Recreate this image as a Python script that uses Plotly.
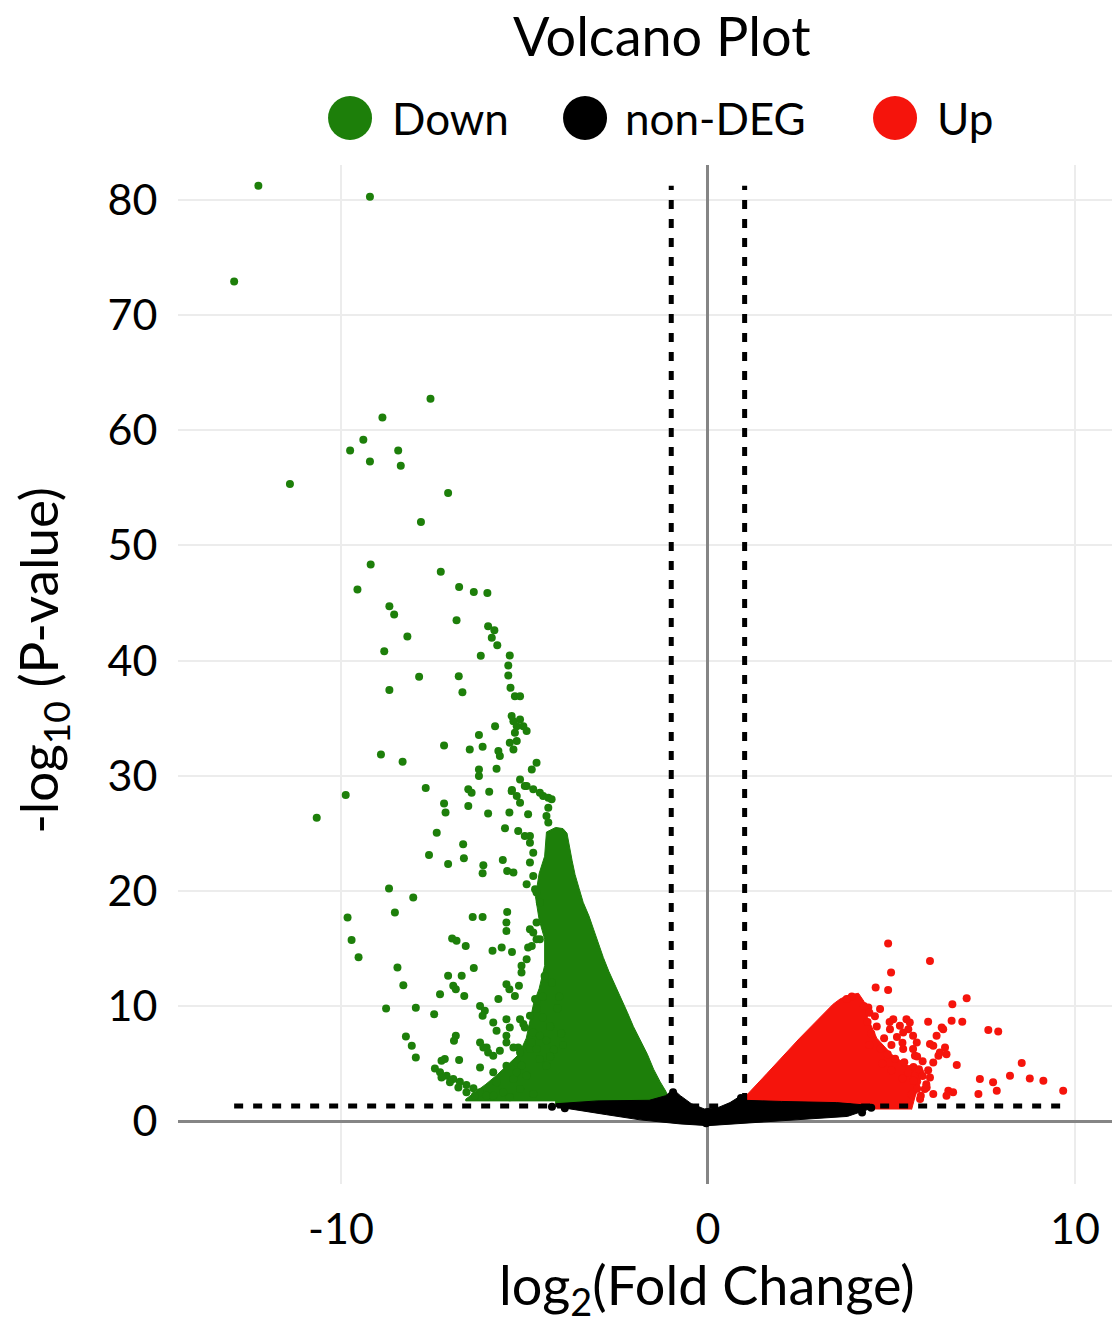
import plotly.graph_objects as go

# ---- thresholds ----
fc_threshold = 1.0          # |log2 fold change|
p_threshold = 1.3           # -log10(0.05)

# ---- individually resolved down-regulated genes (log2FC, -log10 p) ----
down_x = [-12.25, -9.21, -12.91, -7.56, -8.87, -9.39, -9.75, -8.44, -9.21, -8.37, -11.39, -7.08, -7.82, -9.19, -7.28, -9.55, -6.78, -6.38, -6.01, -8.68,
          -8.55, -6.85, -5.99, -5.82, -8.19, -5.89, -5.74, -8.82, -6.19, -5.40, -5.44, -5.44, -7.87, -6.79, -8.68, -6.69, -5.38, -5.26, -5.12, -5.80, -6.24, -5.30, -5.12, -5.21, -4.94, -5.26,
          -5.35, -5.03, -5.40, -5.21,
          -7.19, -8.91, -8.32, -6.49, -6.14, -5.71, -5.30, -5.67, -4.67, -4.80, -6.24, -5.76, -6.24, -5.12, -7.69, -9.87, -6.53, -6.44, -5.96, -5.34, -4.94, -4.76, -4.58, -4.35, -5.21,
          -6.53, -7.19, -7.15, -5.99, -5.41, -4.90, -4.35, -4.40, -10.66, -7.39, -5.53, -5.17, -4.85, -6.67, -7.60, -7.08, -6.65, -6.12, -6.14, -5.59, -5.47, -5.30, -4.85, -4.76, -4.94,
          -8.69, -8.03, -4.67, -9.82, -8.53, -6.41, -6.14, -5.47, -5.49, -5.49, -4.85, -4.67, -4.58, -9.71, -6.97, -6.85, -6.60, -5.87, -5.62, -5.34, -4.90, -9.52, -5.08, -4.94,
          -8.46, -6.38, -8.30, -7.08, -6.71, -6.94, -6.87, -6.64, -7.30, -5.49, -5.41, -5.15, -5.71, -5.26, -4.67, -8.77, -7.96, -7.46, -6.21, -6.08, -6.14, -5.85, -5.49, -5.40,
          -5.76, -5.03, -4.76, -8.23, -8.07, -7.96, -6.87, -6.92, -6.21, -6.03, -5.67, -5.17, -4.85, -7.17, -6.78, -6.21, -5.85, -5.49, -5.21,
          -7.44, -7.30, -7.12, -6.94, -6.76, -6.58, -6.39, -6.21, -6.03, -7.26, -7.03, -6.80, -6.58, -6.35,
          -5.76, -5.58, -5.30, -5.12, -4.94, -4.76, -5.85, -5.40,
          -4.99, -5.12, -4.49, -4.26, -5.35, -4.35, -4.99, -4.85, -4.76, -4.71, -4.58, -4.76, -4.67, -4.80, -5.08, -4.71, -4.67, -5.49, -5.12, -4.99, -4.85, -4.80, -4.58, -7.26,
          -6.12, -5.99, -5.85, -5.49, -5.30, -5.12, -5.08, -5.21, -4.67, -4.58, -4.40,
          -4.50, -4.30, -4.40, -4.20, -4.50, -4.25, -4.45, -4.10, -4.00, -4.30, -3.95, -4.05]
down_y = [81.24, 80.29, 72.91, 62.73, 61.11, 59.18, 58.25, 58.25, 57.29, 56.92, 55.33, 54.55, 52.03, 48.33, 47.70, 46.16, 46.39, 45.96, 45.87, 44.71,
          43.99, 43.50, 42.98, 42.63, 42.08, 41.97, 41.33, 40.81, 40.41, 40.43, 39.57, 38.70, 38.58, 38.64, 37.43, 37.25, 37.63, 36.90, 36.90, 34.30, 33.52, 34.73, 34.88, 34.30, 33.87, 33.73,
          35.17, 34.30, 32.86, 33.00,
          32.62, 31.84, 31.21, 32.28, 32.51, 32.13, 32.28, 31.70, 31.12, 30.54, 30.54, 30.60, 29.96, 29.67, 28.92, 28.31, 28.81, 28.52, 28.61, 28.75, 29.09, 28.81, 28.52, 28.09, 28.23,
          27.36, 27.59, 26.79, 26.72, 26.79, 26.64, 27.22, 26.49, 26.35, 25.05, 25.42, 25.19, 24.76, 24.03, 23.11, 22.33, 22.82, 22.21, 21.52, 22.67, 21.72, 21.58, 22.45, 21.28, 20.56,
          20.19, 19.41, 19.84, 17.67, 18.11, 17.73, 17.73, 18.16, 17.24, 16.51, 16.66, 17.24, 15.79, 15.73, 15.85, 15.65, 15.21, 14.78, 15.07, 14.69, 15.07, 14.23, 13.48, 14.06,
          13.33, 13.30, 11.80, 12.61, 12.61, 11.74, 11.45, 10.87, 11.02, 11.89, 11.45, 11.74, 10.59, 10.87, 10.44, 9.78, 9.83, 9.28, 10.00, 9.57, 9.14, 8.56, 8.85, 8.13,
          7.84, 8.42, 7.70, 7.35, 6.54, 5.52, 7.40, 6.97, 6.83, 6.39, 6.10, 6.39, 6.25, 5.38, 5.29, 4.66, 4.23, 4.80, 5.09,
          4.57, 4.23, 3.93, 3.64, 3.41, 3.12, 2.84, 2.49, 2.20, 3.79, 3.36, 2.92, 2.49, 2.20,
          3.36, 2.49, 3.64, 2.78, 3.93, 2.34, 2.20, 2.06,
          29.09, 27.65, 28.23, 27.94, 28.66, 25.92, 24.76, 24.18, 23.31, 20.13, 18.98, 16.37, 15.79, 15.21, 12.90, 10.59, 9.72, 7.40, 8.85, 8.13, 9.14, 6.83, 7.40, 5.23,
          6.39, 5.96, 5.67, 6.83, 6.39, 5.96, 4.80, 4.23, 6.25, 5.38, 4.80,
          9.00, 8.20, 7.00, 6.20, 10.80, 12.00, 12.60, 9.80, 7.60, 5.60, 6.60, 10.80]

# ---- outline of the dense down-regulated cloud ----
down_cloud_x = [-0.98, -1.05, -1.15, -1.30, -1.48, -1.65, -1.85, -2.03, -2.19, -2.36, -2.54, -2.70, -2.85, -2.99, -3.11, -3.24, -3.40, -3.51, -3.62, -3.70, -3.78, -3.84,
                -3.95, -4.15, -4.40, -4.45, -4.60, -4.70, -4.60, -4.45, -4.45, -4.60, -4.75, -4.85, -4.95, -5.15, -5.45, -5.75, -6.05, -6.35, -6.60, -6.60, -4.15, -4.15]
down_cloud_y = [1.30, 1.90, 2.60, 3.40, 4.50, 5.80, 7.00, 8.20, 9.40, 10.60, 11.80, 13.00, 14.20, 15.40, 16.60, 17.80, 19.00, 20.20, 21.40, 22.60, 23.80, 25.00,
                25.40, 25.50, 25.10, 23.00, 21.50, 19.50, 17.50, 15.80, 13.50, 11.50, 10.20, 8.60, 7.20, 5.80, 4.90, 4.00, 3.20, 2.50, 1.90, 1.75, 1.75, 1.30]

# ---- individually resolved up-regulated genes ----
up_x = [4.91, 6.05, 4.99, 4.57, 4.91, 7.05, 6.66, 3.92, 3.78, 4.37, 4.69, 6.64, 6.93, 6.00, 7.64, 7.91, 5.05, 5.41, 5.23, 4.96, 5.46, 6.23, 6.41, 6.14,
        5.59, 5.69, 5.32, 5.59, 6.46, 6.50, 6.28, 6.14, 6.78, 8.55, 8.23, 8.77, 9.14, 7.41, 7.77, 7.87, 7.37, 9.68, 6.55, 6.68, 6.50, 5.96, 6.14, 5.78, 6.05,
        5.50, 5.32, 6.37, 6.05, 6.32, 5.64, 5.78, 5.50, 5.91,
        4.35, 4.60, 4.45, 4.80, 4.40, 4.70, 5.00, 4.90, 5.10, 5.35, 4.75, 5.60, 5.45, 5.75, 5.30, 5.60, 5.85, 5.70, 5.55, 5.80, 5.00, 4.40, 4.25, 4.55,
        5.15, 5.30, 4.95, 5.70, 5.85, 6.00, 5.95]
up_y = [15.42, 13.91, 12.90, 11.60, 11.37, 10.67, 10.15, 10.82, 10.59, 9.86, 9.72, 8.70, 8.62, 8.62, 7.90, 7.78, 8.85, 8.85, 8.27, 7.98, 7.98, 7.40, 7.98, 6.54,
        7.40, 6.83, 6.25, 6.25, 6.39, 5.81, 5.67, 5.09, 4.86, 5.03, 3.93, 3.70, 3.50, 3.64, 3.36, 2.63, 2.34, 2.63, 2.63, 2.49, 2.20, 2.92, 2.34, 1.91, 3.79,
        8.56, 7.70, 8.13, 6.68, 5.96, 5.67, 4.23, 4.51, 2.78,
        8.60, 8.20, 7.60, 7.20, 6.60, 6.30, 6.60, 5.80, 5.40, 5.10, 5.00, 4.70, 4.20, 4.50, 3.70, 3.50, 3.90, 2.80, 2.30, 2.20, 4.40, 9.40, 10.00, 9.10,
        7.30, 6.80, 8.60, 5.60, 5.20, 4.40, 3.20]

# ---- outline of the dense up-regulated cloud ----
up_cloud_x = [0.90, 0.87, 1.60, 2.50, 3.41, 3.60, 3.80, 4.10, 4.25, 4.35, 4.60, 5.00, 5.45, 5.75, 5.80, 5.65, 5.55]
up_cloud_y = [1.00, 1.62, 4.10, 7.20, 10.15, 10.60, 10.90, 11.10, 10.40, 9.00, 7.20, 5.80, 4.80, 4.20, 3.40, 2.20, 1.00]

# ---- non-DEG genes: outline of the dense cloud plus resolved points ----
nondeg_cloud_x = [-4.15, -3.00, -1.60, -1.15, -0.95, -0.75, -0.45, -0.10, 0.30, 0.60, 0.90, 1.00, 2.00, 3.50, 4.45,
                  4.45, 3.80, 2.00, 0.70, 0.00, -0.76, -1.85, -2.76, -3.50, -4.15]
nondeg_cloud_y = [1.50, 1.75, 1.80, 2.20, 2.75, 2.20, 1.50, 1.05, 1.20, 1.60, 2.20, 1.80, 1.70, 1.60, 1.35,
                  1.10, 0.40, 0.00, -0.25, -0.40, -0.25, 0.10, 0.55, 0.95, 1.25]
nondeg_x = [-4.25, -3.90, 4.45, 4.20, -0.95, 0.90, -0.05]
nondeg_y = [1.25, 1.10, 1.15, 0.75, 2.50, 2.00, -0.20]

x_ticks = [-10, 0, 10]
x_tick_text = ["-10", "0", "10"]
y_ticks = [0, 10, 20, 30, 40, 50, 60, 70, 80]

GREEN, RED, BLACK = "#1d7f0a", "#f5140c", "#000000"
FONT = "Lato"
MS = 8

fig = go.Figure()


def cloud(xs, ys, color):
    fig.add_trace(go.Scatter(x=xs, y=ys, mode="lines", fill="toself", fillcolor=color,
                             line=dict(color=color, width=1), hoverinfo="skip", showlegend=False))


def dots(xs, ys, color, name):
    fig.add_trace(go.Scatter(x=xs, y=ys, mode="markers", name=name,
                             marker=dict(color=color, size=MS, line=dict(width=0)), showlegend=False))


cloud(down_cloud_x, down_cloud_y, GREEN)
dots(down_x, down_y, GREEN, "Down")
cloud(up_cloud_x, up_cloud_y, RED)
dots(up_x, up_y, RED, "Up")
cloud(nondeg_cloud_x, nondeg_cloud_y, BLACK)
dots(nondeg_x, nondeg_y, BLACK, "non-DEG")

all_x = down_x + up_x + down_cloud_x + up_cloud_x
all_y = down_y + up_y
x_lo, x_hi = min(all_x), max(all_x)
y_hi = max(all_y)

dotted = dict(color="black", width=5, dash="9px,10px")
shapes = [
    dict(type="line", xref="x", yref="y", x0=x_lo, x1=x_hi, y0=p_threshold, y1=p_threshold, line=dotted, layer="above"),
    dict(type="line", xref="x", yref="y", x0=-fc_threshold, x1=-fc_threshold, y0=0, y1=y_hi, line=dotted, layer="above"),
    dict(type="line", xref="x", yref="y", x0=fc_threshold, x1=fc_threshold, y0=0, y1=y_hi, line=dotted, layer="above"),
]

# legend drawn by hand so the swatches can be large
legend_items = [("Down", GREEN, 0.1842, 0.2270), ("non-DEG", BLACK, 0.4358, 0.4764), ("Up", RED, 0.7677, 0.8105)]
legend_y = 1.0461
annotations = []
for label, color, cx, tx in legend_items:
    shapes.append(dict(type="circle", xref="paper", yref="paper", xsizemode="pixel", ysizemode="pixel",
                       xanchor=cx, yanchor=legend_y, x0=-22, x1=22, y0=-22, y1=22,
                       fillcolor=color, line=dict(width=0)))
    annotations.append(dict(text=label, xref="paper", yref="paper", x=tx, y=legend_y, xanchor="left", yanchor="middle",
                            showarrow=False, font=dict(family=FONT, size=44, color="black")))

annotations += [
    dict(text="Volcano Plot", xref="paper", yref="paper", x=0.518, y=1.1266, xanchor="center", yanchor="middle",
         showarrow=False, font=dict(family=FONT, size=54, color="black")),
    dict(text="-log<sub>10</sub> (P-value)", xref="paper", yref="paper", x=-0.146, y=0.514, textangle=-90,
         xanchor="center", yanchor="middle", showarrow=False, font=dict(family=FONT, size=53, color="black")),
    dict(text="log<sub>2</sub>(Fold Change)", xref="paper", yref="paper", x=0.5664, y=-0.102,
         xanchor="center", yanchor="middle", showarrow=False, font=dict(family=FONT, size=54, color="black")),
]

axis_common = dict(showgrid=True, gridcolor="#ececec", gridwidth=2, zeroline=True, zerolinecolor="#858585",
                   zerolinewidth=3, showline=False, ticks="outside", tickcolor="rgba(0,0,0,0)",
                   tickfont=dict(family=FONT, size=43, color="black"))

fig.update_layout(
    width=1112, height=1324,
    margin=dict(l=178, r=0, t=165, b=140),
    paper_bgcolor="white", plot_bgcolor="white",
    showlegend=False,
    xaxis=dict(range=[-14.44, 11.01], tickvals=x_ticks, ticktext=x_tick_text, ticklen=7, **axis_common),
    yaxis=dict(range=[-5.47, 83.04], tickvals=y_ticks, ticklen=11, **axis_common),
    shapes=shapes,
    annotations=annotations,
)

fig.write_html("out.html")
